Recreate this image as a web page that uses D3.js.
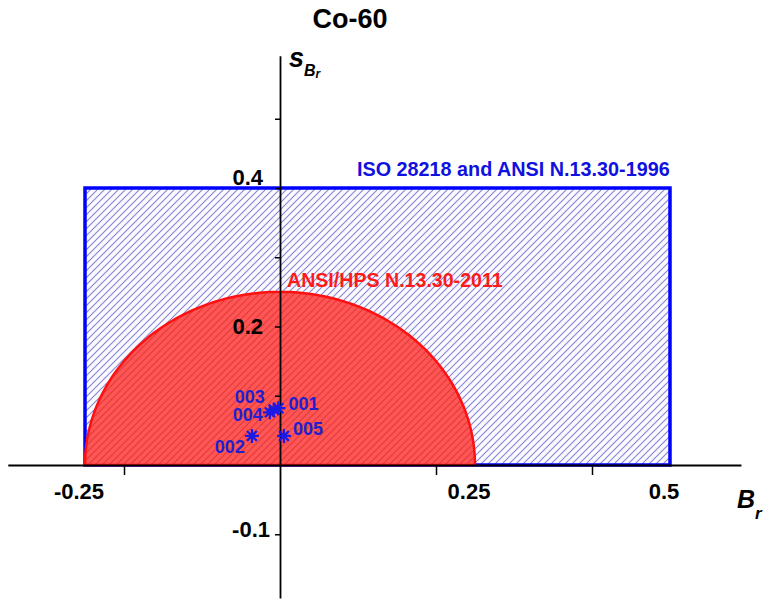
<!DOCTYPE html>
<html>
<head>
<meta charset="utf-8">
<script src="https://cdn.jsdelivr.net/npm/d3@7"></script>
<style>
  html, body { margin: 0; padding: 0; background: #fff; }
  svg { display: block; font-family: "Liberation Sans", Arial, sans-serif; }
</style>
</head>
<body>
<svg id="chart" width="772" height="605"></svg>
<script>
// ---------- data ----------
const title = "Co-60";
const pointIds = ["001", "002", "003", "004", "005"];
const pointBr  = [-0.002, -0.036, -0.008, -0.013, 0.005];
const pointSBr = [0.082, 0.042, 0.080, 0.076, 0.042];

const isoLabel = "ISO 28218 and ANSI N.13.30-1996";
const isoBrRange = [-0.25, 0.5];
const isoSBrRange = [0, 0.4];

const ansiLabel = "ANSI/HPS N.13.30-2011";
const ansiRadius = 0.25;

const xTickValues = [-0.2, 0.2, 0.4];
const xTickLabelValues = [-0.25, 0.25, 0.5];
const xTickLabels = ["-0.25", "0.25", "0.5"];
const yTickValues = [-0.1, 0.1, 0.2, 0.3, 0.4, 0.5];
const yTickLabelValues = [0.4, 0.2, -0.1];
const yTickLabels = ["0.4", "0.2", "-0.1"];
const xExtent = [-0.349, 0.591];
const yExtent = [-0.192, 0.591];

// ---------- drawing ----------
const svg = d3.select("#chart");
const x = d3.scaleLinear().domain([-0.25, 0.5]).range([85, 670]);
const y = d3.scaleLinear().domain([0, 0.4]).range([465, 188]);

const defs = svg.append("defs");
function hatch(id, bg, line) {
  const p = defs.append("pattern").attr("id", id)
    .attr("patternUnits", "userSpaceOnUse").attr("width", 7).attr("height", 7);
  p.append("rect").attr("width", 7).attr("height", 7).attr("fill", bg);
  p.append("path").attr("d", "M-1,1 l2,-2 M0,7 l7,-7 M6,8 l2,-2")
    .attr("stroke", line).attr("stroke-width", 1.1).attr("fill", "none");
}
hatch("blueHatch", "#fbfbff", "#8585d4");
hatch("redHatch", "#ff5555", "#e03838");

// blue rectangle
svg.append("rect")
  .attr("x", x(isoBrRange[0])).attr("y", y(isoSBrRange[1]))
  .attr("width", x(isoBrRange[1]) - x(isoBrRange[0]))
  .attr("height", y(isoSBrRange[0]) - y(isoSBrRange[1]))
  .attr("fill", "url(#blueHatch)")
  .attr("stroke", "#0000ff").attr("stroke-width", 3.5);

// red half-ellipse (circle in data units)
const arcPts = d3.range(0, 181, 1).map(a => {
  const t = a * Math.PI / 180;
  return [x(ansiRadius * Math.cos(t)), y(ansiRadius * Math.sin(t))];
});
svg.append("path")
  .attr("d", d3.line()(arcPts) + "Z")
  .attr("fill", "url(#redHatch)")
  .attr("stroke", "#ff1010").attr("stroke-width", 2.5).attr("stroke-linejoin", "round");

// axes
const xAx = x.copy().domain(xExtent).range(xExtent.map(x));
const yAx = y.copy().domain(yExtent).range(yExtent.map(y));
const gx = svg.append("g").attr("transform", `translate(0,${y(0)})`)
  .call(d3.axisBottom(xAx).tickValues(xTickValues).tickSize(10).tickSizeOuter(0).tickFormat(""));
const gy = svg.append("g").attr("transform", `translate(${x(0)},0)`)
  .call(d3.axisLeft(yAx).tickValues(yTickValues).tickSize(5).tickSizeOuter(0).tickFormat(""));
[gx, gy].forEach(g => {
  g.select(".domain").attr("stroke", "#000").attr("stroke-width", 1.8);
  g.selectAll(".tick line").attr("stroke", "#000").attr("stroke-width", 1.5);
});

// tick labels
svg.selectAll(".xlab").data(xTickLabelValues).enter().append("text")
  .attr("x", d => x(d) - 6).attr("y", y(0) + 34)
  .attr("text-anchor", "middle").attr("font-size", 22).attr("font-weight", "bold")
  .attr("fill", "#000").text((d, i) => xTickLabels[i]);
const yLabDy = [-3, 7, 3];
svg.selectAll(".ylab").data(yTickLabelValues).enter().append("text")
  .attr("x", (d, i) => x(0) - (i === 2 ? 10 : 17)).attr("y", (d, i) => y(d) + yLabDy[i])
  .attr("text-anchor", "end").attr("font-size", 22).attr("font-weight", "bold")
  .attr("fill", "#000").text((d, i) => yTickLabels[i]);

// region labels
svg.append("text").attr("x", 357).attr("y", 176)
  .attr("font-size", 19.8).attr("font-weight", "bold").attr("fill", "#1010e0")
  .text(isoLabel);
svg.append("text").attr("x", 287).attr("y", 287)
  .attr("font-size", 19.6).attr("font-weight", "bold").attr("fill", "#ff1a1a")
  .text(ansiLabel);

// points
const star = r => {
  const d = r * Math.SQRT1_2;
  return `M${-r},0L${r},0M0,${-r}L0,${r}M${-d},${-d}L${d},${d}M${-d},${d}L${d},${-d}`;
};
const pts = svg.append("g");
pointIds.forEach((id, i) => {
  pts.append("path").attr("d", star(7))
    .attr("transform", `translate(${x(pointBr[i])},${y(pointSBr[i])})`)
    .attr("stroke", "#1a1ae6").attr("stroke-width", 2.2).attr("fill", "none");
});
const labelPlace = {
  "001": [10, 2, "start"], "002": [-7, 17, "end"], "003": [-9, -7, "end"],
  "004": [-7, 9, "end"], "005": [9, -1, "start"]
};
pointIds.forEach((id, i) => {
  const [dx, dy, anchor] = labelPlace[id];
  pts.append("text")
    .attr("x", x(pointBr[i]) + dx).attr("y", y(pointSBr[i]) + dy)
    .attr("text-anchor", anchor).attr("font-size", 18).attr("font-weight", "bold")
    .attr("fill", "#2020d0").text(id);
});

// title
svg.append("text").attr("x", 350).attr("y", 28).attr("text-anchor", "middle")
  .attr("font-size", 27).attr("font-weight", "bold").attr("fill", "#000").text(title);

// axis titles
const sLab = svg.append("text").attr("x", 289).attr("y", 67)
  .attr("font-weight", "bold").attr("font-style", "italic").attr("fill", "#000");
sLab.append("tspan").attr("font-size", 27).text("s");
sLab.append("tspan").attr("font-size", 16).attr("dy", 9).text("B");
sLab.append("tspan").attr("font-size", 12).attr("dy", 2).text("r");

const bLab = svg.append("text").attr("x", 737).attr("y", 508)
  .attr("font-weight", "bold").attr("font-style", "italic").attr("fill", "#000");
bLab.append("tspan").attr("font-size", 25).text("B");
bLab.append("tspan").attr("font-size", 17).attr("dy", 11).text("r");
</script>
</body>
</html>
